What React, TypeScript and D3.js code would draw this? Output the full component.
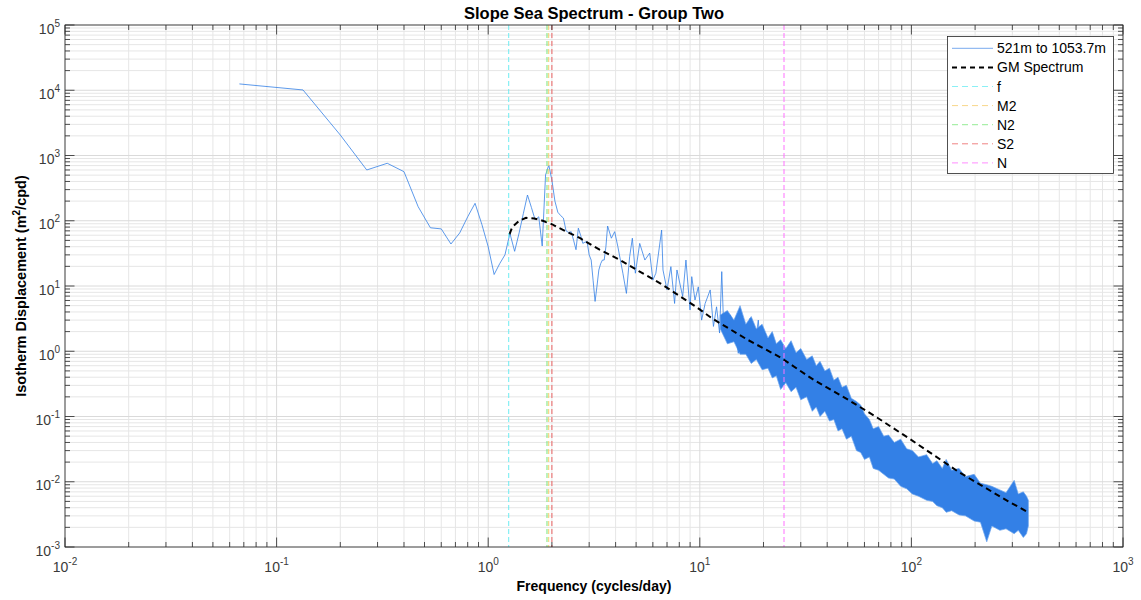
import React, { useEffect, useRef } from 'react';
import * as d3 from 'd3';

// spectrum, low / mid frequencies (cycles/day, m^2/cpd)
const lowFreq = [0.0667, 0.1333, 0.2, 0.2667, 0.3333, 0.4, 0.4667, 0.5333, 0.6, 0.6667, 0.7333, 0.8, 0.8667, 0.9333, 1.0,
  1.0667, 1.1333, 1.2, 1.2667, 1.3333, 1.4, 1.4667, 1.5333, 1.6, 1.6667, 1.7333, 1.8, 1.8667, 1.9333, 2.0,
  2.0667, 2.1333, 2.2, 2.2667, 2.3333, 2.4, 2.4667, 2.5333, 2.6, 2.6667, 2.7333, 2.8, 2.8667, 2.9333, 3.0,
  3.0667, 3.1333, 3.2, 3.2667, 3.3333, 3.4, 3.4667, 3.5333, 3.6, 3.6667,
  3.82, 3.96, 4.1, 4.33, 4.5, 4.66, 4.8, 4.96, 5.2, 5.5, 5.8, 6.0,
  6.2, 6.6, 6.7, 7.0, 7.3, 7.6, 7.8, 8.3, 8.6,
  8.99, 9.16, 9.49, 9.84, 10.2, 10.6, 11.2, 11.6, 12.0, 12.4, 12.7, 12.9, 13.4, 13.9, 14.7, 15.2, 16.1, 16.7, 17.3, 18.0, 18.9, 19.6, 20.3];
const lowPsd = [12500, 10100, 2060, 600, 760, 565, 164, 78, 75, 44, 65, 115, 185, 88, 40,
  15, 22, 30, 64, 34, 65, 130, 248, 160, 103, 115, 41, 502, 714, 420,
  200, 135, 120, 110, 70, 66, 68, 50, 36, 77, 60, 45, 47, 48, 30,
  25, 12, 5.8, 10, 17.6, 22, 25, 25, 40, 83,
  54, 68, 40, 15.7, 7.7, 28, 54, 15.7, 45, 25, 32, 12.3,
  15.7, 72, 17.6, 8.7, 19.8, 5.4, 17.6, 6.9, 25,
  4.3, 13.9, 6.1, 9.7, 3.0, 5.4, 8.7, 2.4, 4.8, 1.9, 16.6, 3.8, 1.5, 3.6, 2.1, 0.93, 3.0, 1.5, 3.2, 0.93, 3.0, 0.58, 1.9];

// dense high-frequency part: upper / lower edge of the noisy band
const bandFreq = [12.5, 13.5, 14.5, 15.5, 16.5, 17.5, 18.5, 19.7, 21, 22, 23, 24.1, 25.5, 27, 28.5, 30, 32, 34,
  35.5, 37, 39, 41, 43, 45, 47, 49.3, 52, 55, 57.6, 60, 63.3, 66, 70, 74, 78, 83, 89, 95,
  101, 108, 118, 126, 132, 140, 146, 155, 168, 180, 198, 212, 227, 240, 262, 280, 306, 320, 338, 350, 357];
const bandUpper = [3.6, 4.2, 3.0, 5.0, 2.6, 3.4, 2.2, 2.6, 1.6, 2.0, 1.3, 1.5, 1.1, 1.45, 0.95, 1.1, 0.75, 0.85,
  0.6, 0.7, 0.5, 0.55, 0.36, 0.4, 0.28, 0.3, 0.19, 0.17, 0.15, 0.11, 0.09, 0.065, 0.07, 0.05, 0.052, 0.04, 0.045, 0.032,
  0.03, 0.024, 0.026, 0.019, 0.021, 0.016, 0.022, 0.015, 0.016, 0.012, 0.013, 0.0095, 0.009, 0.0085, 0.0075, 0.0068, 0.0105, 0.0065, 0.007, 0.006, 0.0052];
const bandLower = [2.2, 1.3, 1.4, 0.9, 0.9, 0.65, 0.75, 0.52, 0.55, 0.39, 0.42, 0.26, 0.33, 0.24, 0.28, 0.18, 0.2, 0.12,
  0.14, 0.1, 0.12, 0.085, 0.09, 0.06, 0.065, 0.045, 0.05, 0.03, 0.028, 0.022, 0.024, 0.016, 0.015, 0.013, 0.0114, 0.011, 0.0085, 0.0078,
  0.0065, 0.006, 0.0052, 0.005, 0.0043, 0.004, 0.0034, 0.0036, 0.0031, 0.003, 0.0025, 0.0024, 0.0012, 0.0021, 0.0018, 0.0019, 0.0016, 0.0018, 0.0014, 0.0016, 0.0021];

// GM spectrum
const gmFreq = [1.26, 1.3, 1.4, 1.51, 1.65, 1.76, 1.95, 2.17, 2.72, 3.36, 4.2, 5.2, 6.5, 8.1, 9.6, 11.4, 16.7, 24.1, 34.7, 50.3, 67, 98.6, 168, 287, 357];
const gmPsd = [62, 80, 100, 111, 108, 103, 92, 77, 54, 36, 25, 16.6, 11, 6.9, 4.8, 3.2, 1.52, 0.8, 0.36, 0.18, 0.102, 0.045, 0.014, 0.005, 0.0034];

// reference frequencies
const markerNames = ['f', 'M2', 'N2', 'S2', 'N'];
const markerFreq = [1.25, 1.932, 1.896, 2.0, 25.0];

const legendLabels = ['521m to 1053.7m', 'GM Spectrum', 'f', 'M2', 'N2', 'S2', 'N'];
const xExponents = [-2, -1, 0, 1, 2, 3];
const yExponents = [-3, -2, -1, 0, 1, 2, 3, 4, 5];

const markerColor: Record<string, string> = {
  f: '#6eecf2',
  M2: '#f5cc6c',
  N2: '#7ae67a',
  S2: '#ec6464',
  N: '#ff70ff',
};
const blue = '#3380e6';
const font = '"Liberation Sans", Arial, Helvetica, sans-serif';

export default function App() {
  const svgRef = useRef<SVGSVGElement>(null);
  const width = 1141;
  const height = 600;
  const left = 65, right = 1123, top = 25, bottom = 547;

  useEffect(() => {
    const svg = d3.select(svgRef.current);
    svg.selectAll('*').remove();

    const x = d3.scaleLog().domain([1e-2, 1e3]).range([left, right]);
    const y = d3.scaleLog().domain([1e-3, 1e5]).range([bottom, top]);

    svg.append('rect').attr('x', left).attr('y', top).attr('width', right - left).attr('height', bottom - top).attr('fill', '#fff');

    // grid
    const xMinor: number[] = [];
    xExponents.slice(0, -1).forEach((e) => { for (let k = 2; k <= 9; k++) xMinor.push(k * Math.pow(10, e)); });
    const yMinor: number[] = [];
    yExponents.slice(0, -1).forEach((e) => { for (let k = 2; k <= 9; k++) yMinor.push(k * Math.pow(10, e)); });
    const xMajor = xExponents.map((e) => Math.pow(10, e));
    const yMajor = yExponents.map((e) => Math.pow(10, e));

    const grid = svg.append('g');
    grid.selectAll('.gxm').data(xMinor).enter().append('line')
      .attr('x1', (d) => x(d)).attr('x2', (d) => x(d)).attr('y1', top).attr('y2', bottom)
      .attr('stroke', '#e6e6e6').attr('stroke-width', 1);
    grid.selectAll('.gym').data(yMinor).enter().append('line')
      .attr('y1', (d) => y(d)).attr('y2', (d) => y(d)).attr('x1', left).attr('x2', right)
      .attr('stroke', '#e6e6e6').attr('stroke-width', 1);
    grid.selectAll('.gxM').data(xMajor).enter().append('line')
      .attr('x1', (d) => x(d)).attr('x2', (d) => x(d)).attr('y1', top).attr('y2', bottom)
      .attr('stroke', '#dadada').attr('stroke-width', 1);
    grid.selectAll('.gyM').data(yMajor).enter().append('line')
      .attr('y1', (d) => y(d)).attr('y2', (d) => y(d)).attr('x1', left).attr('x2', right)
      .attr('stroke', '#dadada').attr('stroke-width', 1);

    svg.append('clipPath').attr('id', 'plotclip').append('rect')
      .attr('x', left).attr('y', top).attr('width', right - left).attr('height', bottom - top);
    const plot = svg.append('g').attr('clip-path', 'url(#plotclip)');

    // noisy band
    const band = bandFreq.map((f, i) => ({ f, hi: bandUpper[i], lo: bandLower[i] }));
    const area = d3.area<any>().x((d) => x(d.f)).y0((d) => y(d.lo)).y1((d) => y(d.hi));
    plot.append('path').attr('d', area(band)).attr('fill', blue)
      .attr('stroke', '#6aa3ee').attr('stroke-width', 0.7);

    const line = d3.line<[number, number]>().x((d) => x(d[0])).y((d) => y(d[1]));
    plot.append('path').attr('d', line(lowFreq.map((f, i) => [f, lowPsd[i]])))
      .attr('fill', 'none').attr('stroke', blue).attr('stroke-width', 0.8);

    // GM spectrum
    plot.append('path').attr('d', line(gmFreq.map((f, i) => [f, gmPsd[i]])))
      .attr('fill', 'none').attr('stroke', '#000').attr('stroke-width', 2).attr('stroke-dasharray', '6,4');

    // reference lines
    plot.selectAll('.mk').data(markerNames).enter().append('line')
      .attr('x1', (d, i) => x(markerFreq[i])).attr('x2', (d, i) => x(markerFreq[i]))
      .attr('y1', top).attr('y2', bottom)
      .attr('stroke', (d) => markerColor[d]).attr('stroke-width', 1).attr('stroke-dasharray', '5,3');

    // box + ticks
    const axisColor = '#262626';
    const ticks = svg.append('g').attr('stroke', axisColor).attr('stroke-width', 0.8);
    const tick = (vals: number[], len: number) => {
      vals.forEach((v) => {
        const px = x(v);
        ticks.append('line').attr('x1', px).attr('x2', px).attr('y1', bottom).attr('y2', bottom - len);
        ticks.append('line').attr('x1', px).attr('x2', px).attr('y1', top).attr('y2', top + len);
      });
    };
    const tickY = (vals: number[], len: number) => {
      vals.forEach((v) => {
        const py = y(v);
        ticks.append('line').attr('y1', py).attr('y2', py).attr('x1', left).attr('x2', left + len);
        ticks.append('line').attr('y1', py).attr('y2', py).attr('x1', right).attr('x2', right - len);
      });
    };
    tick(xMinor, 5);
    tick(xMajor, 9.5);
    tickY(yMinor, 5);
    tickY(yMajor, 9.5);
    svg.append('rect').attr('x', left).attr('y', top).attr('width', right - left).attr('height', bottom - top)
      .attr('fill', 'none').attr('stroke', axisColor).attr('stroke-width', 0.8);

    // tick labels
    const xl = svg.append('g').attr('font-family', font).attr('fill', '#3a3a3a');
    xExponents.forEach((e) => {
      const t = xl.append('text').attr('x', x(Math.pow(10, e))).attr('y', bottom + 25)
        .attr('text-anchor', 'middle').attr('font-size', 14);
      t.append('tspan').text('10');
      t.append('tspan').attr('font-size', 10).attr('dy', -7).text(String(e));
    });
    yExponents.forEach((e) => {
      const t = xl.append('text').attr('x', 60).attr('y', y(Math.pow(10, e)) + 8.5)
        .attr('text-anchor', 'end').attr('font-size', 14);
      t.append('tspan').text('10');
      t.append('tspan').attr('font-size', 10).attr('dy', -7).text(String(e));
    });

    // titles
    svg.append('text').attr('x', (left + right) / 2).attr('y', 19).attr('text-anchor', 'middle')
      .attr('font-family', font).attr('font-weight', 'bold').attr('font-size', 16.5).attr('fill', '#000')
      .text('Slope Sea Spectrum - Group Two');
    svg.append('text').attr('x', (left + right) / 2).attr('y', 591).attr('text-anchor', 'middle')
      .attr('font-family', font).attr('font-weight', 'bold').attr('font-size', 14).attr('fill', '#000')
      .text('Frequency (cycles/day)');
    const yl = svg.append('text').attr('transform', `translate(26,${(top + bottom) / 2}) rotate(-90)`)
      .attr('text-anchor', 'middle').attr('font-family', font).attr('font-weight', 'bold')
      .attr('font-size', 14.5).attr('fill', '#000');
    yl.append('tspan').text('Isotherm Displacement (m');
    yl.append('tspan').attr('font-size', 10).attr('dy', -6).text('2');
    yl.append('tspan').attr('dy', 6).text('/cpd)');

    // legend
    const lg = svg.append('g');
    lg.append('rect').attr('x', 947.5).attr('y', 36.5).attr('width', 166).attr('height', 137)
      .attr('fill', '#fff').attr('stroke', axisColor).attr('stroke-width', 0.8);
    legendLabels.forEach((label, i) => {
      const ly = 48.3 + i * 19.1;
      const l = lg.append('line').attr('x1', 952).attr('x2', 993).attr('y1', ly).attr('y2', ly);
      if (i === 0) l.attr('stroke', '#7aaaee').attr('stroke-width', 1);
      else if (i === 1) l.attr('stroke', '#000').attr('stroke-width', 2).attr('stroke-dasharray', '5,4');
      else l.attr('stroke', markerColor[label]).attr('stroke-width', 1).attr('stroke-dasharray', '6,4').attr('stroke-opacity', 0.8);
      lg.append('text').attr('x', 997).attr('y', ly + 5).attr('font-family', font).attr('font-size', 14)
        .attr('fill', '#000').text(label);
    });
  }, []);

  return (
    <svg ref={svgRef} width={width} height={height} style={{ position: 'absolute', left: 0, top: 0, background: '#fff' }} />
  );
}
